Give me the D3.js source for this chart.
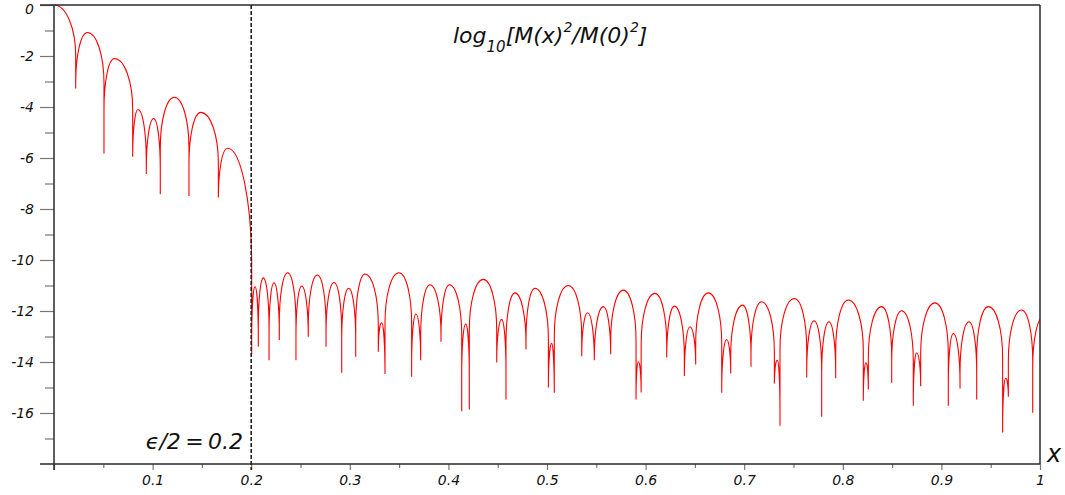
<!DOCTYPE html>
<html>
<head>
<meta charset="utf-8">
<script src="https://cdn.jsdelivr.net/npm/d3@7"></script>
<style>
  html, body { margin: 0; padding: 0; background: #fff; }
  svg { display: block; }
  text { font-family: "DejaVu Sans", sans-serif; font-style: italic; }
</style>
</head>
<body>
<svg id="chart" width="1065" height="495"></svg>
<script>
// ---- data ----
// lobe tops of log10[M(x)^2/M(0)^2]
const peakX = [0, 0.0338, 0.0612, 0.0852, 0.1011, 0.1220, 0.1488, 0.1758,
  0.2039, 0.2123, 0.2231, 0.2370, 0.2512, 0.2671, 0.2840, 0.2989, 0.3154, 0.3323,
  0.3499, 0.3671, 0.3813, 0.4010, 0.4175, 0.4354, 0.4540, 0.4675, 0.4878, 0.5047,
  0.5216, 0.5412, 0.5571, 0.5774, 0.5926, 0.6095, 0.6292, 0.6450, 0.6636, 0.6822,
  0.6984, 0.7177, 0.7336, 0.7509, 0.7708, 0.7860, 0.8056, 0.8235, 0.8394, 0.8597,
  0.8749, 0.8935, 0.9121, 0.9280, 0.9476, 0.9652, 0.9814, 1.004];
const peakY = [0, -1.08, -2.10, -4.10, -4.45, -3.62, -4.21, -5.62,
  -11.05, -10.70, -10.89, -10.50, -11.02, -10.59, -10.88, -11.11, -10.55, -12.46,
  -10.50, -12.12, -10.97, -10.97, -12.51, -10.76, -12.33, -11.29, -11.11, -13.27,
  -11.00, -12.07, -11.83, -11.18, -13.99, -11.31, -11.81, -12.62, -11.29, -13.12,
  -11.77, -11.64, -13.93, -11.51, -12.38, -12.42, -11.57, -14.03, -11.83, -11.99,
  -13.64, -11.68, -12.88, -12.42, -11.83, -14.64, -11.96, -12.2];
// how far each lobe falls as a smooth arch before turning into a spike
const peakDepth = peakX.map((d, i) => i === 7 ? 4.6 : 2);
// spike bottoms (zeros of M, sampled)
const dipX = [0.0220, 0.0507, 0.0798, 0.0936, 0.1078, 0.1369, 0.1667, 0.2005,
  0.2072, 0.2181, 0.2285, 0.2454, 0.2579, 0.2759, 0.2918, 0.3060, 0.3289, 0.3357,
  0.3627, 0.3719, 0.3925, 0.4135, 0.4212, 0.4490, 0.4584, 0.4787, 0.5014, 0.5074,
  0.5352, 0.5480, 0.5646, 0.5903, 0.5955, 0.6214, 0.6393, 0.6508, 0.6772, 0.6863,
  0.7069, 0.7306, 0.7363, 0.7634, 0.7786, 0.7928, 0.8208, 0.8259, 0.8496, 0.8715,
  0.8790, 0.9070, 0.9189, 0.9358, 0.9621, 0.9679, 0.9926];
const dipY = [-3.27, -5.82, -5.95, -6.63, -7.42, -7.49, -7.55, -13.7,
  -13.40, -13.93, -13.14, -13.93, -13.01, -13.40, -14.42, -13.79, -13.60, -14.47,
  -14.58, -13.93, -13.21, -15.93, -15.86, -14.02, -15.47, -13.51, -15.00, -15.21,
  -13.77, -13.93, -13.70, -15.47, -15.20, -13.82, -14.55, -14.10, -15.21, -14.45,
  -14.19, -14.84, -16.50, -14.61, -16.15, -14.64, -15.52, -15.08, -14.81, -15.72,
  -14.95, -15.72, -15.04, -15.47, -16.76, -15.36, -15.99];

const yMajorTicks = [0, -2, -4, -6, -8, -10, -12, -14, -16];
const yMinorTicks = [-1, -3, -5, -7, -9, -11, -13, -15, -17];
const xMajorTicks = [0, 0.1, 0.2, 0.3, 0.4, 0.5, 0.6, 0.7, 0.8, 0.9, 1];
const xTickLabels = ["", "0.1", "0.2", "0.3", "0.4", "0.5", "0.6", "0.7", "0.8", "0.9", "1"];
const xMinorTicks = [0.05, 0.15, 0.25, 0.35, 0.45, 0.55, 0.65, 0.75, 0.85, 0.95];
const cutX = 0.2;

// ---- layout ----
const svg = d3.select("#chart");
const L = 54, R = 1040, T = 5, B = 464;
const x = d3.scaleLinear().domain([0, 1]).range([L, R]);
const y = d3.scaleLinear().domain([-18, 0]).range([B, T]);

svg.append("rect").attr("width", 1065).attr("height", 495).attr("fill", "#fff");

svg.append("defs").append("clipPath").attr("id", "plotclip")
  .append("rect").attr("x", L).attr("y", 0).attr("width", R - L).attr("height", B);

// ---- curve ----
const k = 0.5523;
const p = d3.path();
function arcDown(x0, y0, x1, y1) {
  const rx = x1 - x0, ry = y1 - y0;
  p.bezierCurveTo(x0 + k * rx, y0, x1, y1 - k * ry, x1, y1);
}
function arcUp(x0, y0, x1, y1) {
  const rx = x1 - x0, ry = y0 - y1;
  p.bezierCurveTo(x0, y0 - k * ry, x1 - k * rx, y1, x1, y1);
}
p.moveTo(x(peakX[0]), y(peakY[0]));
for (let i = 0; i < dipX.length; i++) {
  const baseL = Math.max(peakY[i] - peakDepth[i], dipY[i]);
  arcDown(x(peakX[i]), y(peakY[i]), x(dipX[i]), y(baseL));
  p.lineTo(x(dipX[i]), y(dipY[i]));
  const baseR = Math.max(peakY[i + 1] - peakDepth[i + 1], dipY[i]);
  p.lineTo(x(dipX[i]), y(baseR));
  arcUp(x(dipX[i]), y(baseR), x(peakX[i + 1]), y(peakY[i + 1]));
}
svg.append("path")
  .attr("d", p.toString())
  .attr("clip-path", "url(#plotclip)")
  .attr("fill", "none")
  .attr("stroke", "#ff0000")
  .attr("stroke-width", 1.1);

// ---- axes ----
const yAx = svg.append("g").attr("transform", `translate(${L},0)`)
  .call(d3.axisLeft(y).tickValues(yMajorTicks).tickSize(14).tickPadding(6).tickFormat(d => String(d)));
const yAxMinor = svg.append("g").attr("transform", `translate(${L},0)`)
  .call(d3.axisLeft(y).tickValues(yMinorTicks).tickSize(9).tickFormat(""));
const xAx = svg.append("g").attr("transform", `translate(0,${B})`)
  .call(d3.axisBottom(x).tickValues(xMajorTicks).tickSize(6).tickPadding(5)
    .tickFormat((d, i) => xTickLabels[i]));
const xAxMinor = svg.append("g").attr("transform", `translate(0,${B})`)
  .call(d3.axisBottom(x).tickValues(xMinorTicks).tickSize(4).tickFormat(""));

[yAx, yAxMinor, xAx, xAxMinor].forEach(g => {
  g.select(".domain").remove();
  g.selectAll(".tick line").attr("stroke", "#777").attr("stroke-width", 1.2);
  g.selectAll(".tick text").attr("font-size", 14).attr("fill", "#111")
    .attr("font-family", "DejaVu Sans").attr("font-style", "italic");
});
// keep the top "0" label inside the picture
yAx.selectAll(".tick text").filter(d => d === 0).attr("y", 4);

// frame
const frame = svg.append("g").attr("stroke", "#2a2a2a").attr("stroke-width", 1.5).attr("fill", "none");
frame.append("line").attr("x1", 40).attr("x2", R).attr("y1", T).attr("y2", T);
frame.append("line").attr("x1", 40).attr("x2", R).attr("y1", B).attr("y2", B);
frame.append("line").attr("x1", L).attr("x2", L).attr("y1", T).attr("y2", B + 6);
frame.append("line").attr("x1", R).attr("x2", R).attr("y1", T).attr("y2", B);

// dashed cut line
svg.append("line")
  .attr("x1", x(cutX)).attr("x2", x(cutX)).attr("y1", T).attr("y2", B + 6)
  .attr("stroke", "#222").attr("stroke-width", 1.6).attr("stroke-dasharray", "4,2");

// ---- texts ----
const title = svg.append("text").attr("x", 453).attr("y", 43).attr("font-size", 22).attr("fill", "#111");
title.append("tspan").text("log");
title.append("tspan").attr("dy", 9).attr("font-size", 15).text("10");
title.append("tspan").attr("dy", -9).text("[M(x)");
title.append("tspan").attr("dy", -11).attr("font-size", 14).text("2");
title.append("tspan").attr("dy", 11).text("/M(0)");
title.append("tspan").attr("dy", -11).attr("font-size", 14).text("2");
title.append("tspan").attr("dy", 11).text("]");

svg.append("text").attr("x", 243).attr("y", 449).attr("text-anchor", "end")
  .attr("font-size", 22).attr("fill", "#111").text("\u03F5/2\u2009=\u20090.2");

svg.append("text").attr("x", 1047).attr("y", 462)
  .attr("font-size", 24).attr("fill", "#111").text("x");
</script>
</body>
</html>
